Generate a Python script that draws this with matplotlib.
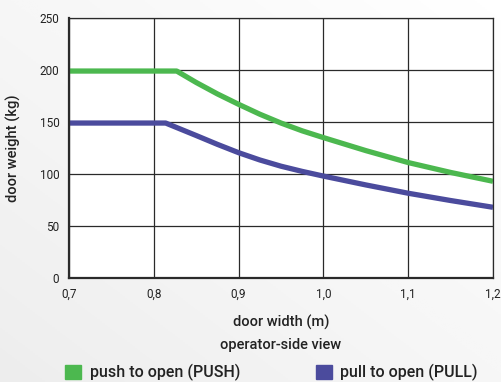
import numpy as np
import matplotlib

matplotlib.use('Agg')
import matplotlib.pyplot as plt
from matplotlib.patches import Patch

plt.rcParams['font.family'] = ['Roboto', 'DejaVu Sans']

# values
width_push = [0.70, 0.827, 0.85, 0.875, 0.90, 0.925, 0.95, 0.975, 1.00, 1.05, 1.10, 1.15, 1.20]
weight_push = [199, 199, 188, 177, 167, 157.5, 149, 141.5, 135, 122.5, 111, 101.5, 93]
width_pull = [0.70, 0.814, 0.85, 0.875, 0.90, 0.925, 0.95, 0.975, 1.00, 1.05, 1.10, 1.15, 1.20]
weight_pull = [149, 149, 137, 128.5, 120.5, 113.5, 107.5, 102.5, 98, 89.5, 81.5, 74.5, 68]

x_ticks = [0.7, 0.8, 0.9, 1.0, 1.1, 1.2]
x_labels = ['0,7', '0,8', '0,9', '1,0', '1,1', '1,2']
y_ticks = [0, 50, 100, 150, 200, 250]

green = '#4cb84f'
blue = '#4b4b9d'

fig = plt.figure(figsize=(5.01, 3.82), dpi=100)

# soft grey-to-white background
bg = fig.add_axes([0, 0, 1, 1], zorder=-10)
gx, gy = np.meshgrid(np.linspace(0, 1, 200), np.linspace(0, 1, 200))
g = np.clip(0.5 * gx + 0.5 * (1 - gy), 0, 1)
bg.imshow(g, cmap='Greys_r', vmin=-6, vmax=1, aspect='auto', origin='upper')
bg.axis('off')

ax = fig.add_axes([69 / 501, 104 / 382, 424 / 501, 260 / 382])
ax.set_facecolor('white')
ax.plot(width_push, weight_push, color=green, lw=3.8, solid_capstyle='butt', solid_joinstyle='round')
ax.plot(width_pull, weight_pull, color=blue, lw=3.8, solid_capstyle='butt', solid_joinstyle='round')

ax.set_xlim(0.7, 1.2)
ax.set_ylim(0, 250)
ax.set_xticks(x_ticks)
ax.set_xticklabels(x_labels)
ax.set_yticks(y_ticks)
ax.grid(True, color='#2a2a2a', lw=0.9)
ax.set_axisbelow(True)
ax.tick_params(length=0, labelsize=8.5, colors='#222222', pad=7)
for s in ax.spines.values():
    s.set_color('#2a2a2a')
    s.set_linewidth(0.9)
ax.spines['left'].set_linewidth(1.6)
ax.spines['bottom'].set_linewidth(1.6)

ax.set_xlabel('door width (m)\noperator-side view', fontsize=10.5, color='#222222',
              fontweight='medium', labelpad=10, linespacing=1.75)
ax.set_ylabel('door weight (kg)', fontsize=10.5, color='#222222', fontweight='medium', labelpad=13)

handles = [Patch(color=green, label='push to open (PUSH)'),
           Patch(color=blue, label='pull to open (PULL)')]
fig.legend(handles=handles, loc='lower left', bbox_to_anchor=(0.102, -0.035), ncol=2,
           frameon=False, handlelength=1.0, handleheight=1.0, handletextpad=0.55,
           columnspacing=4.7, prop={'size': 11.5, 'weight': 'medium'}, labelcolor='#222222')

fig.savefig('out.png', dpi=100)
